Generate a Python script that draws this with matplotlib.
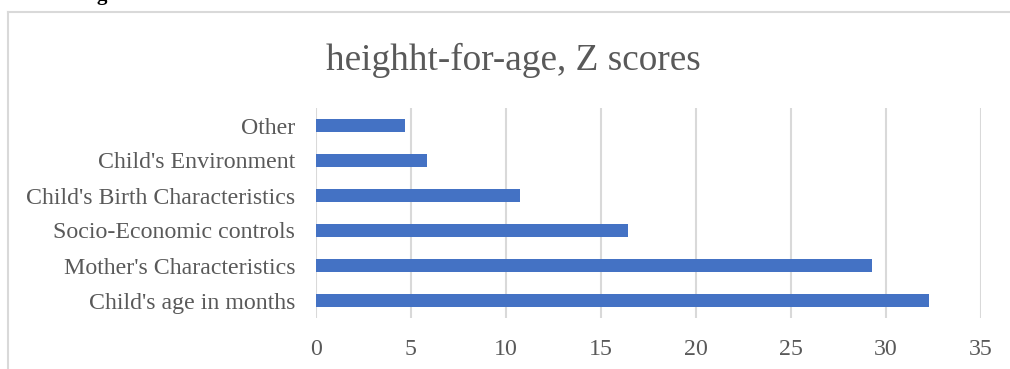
import matplotlib
matplotlib.use("Agg")
from matplotlib import pyplot as plt
from matplotlib.lines import Line2D

# factor groups, listed bottom to top
factors = ["Child's age in months", "Mother's Characteristics", "Socio-Economic controls",
           "Child's Birth Characteristics", "Child's Environment", "Other"]
shares = [32.26, 29.26, 16.42, 10.74, 5.84, 4.68]
xticks = [0, 5, 10, 15, 20, 25, 30, 35]

text_grey = "#595959"
grid_grey = "#d9d9d9"
bar_blue = "#4472c4"

plt.rcParams['font.family'] = ['Liberation Serif', 'DejaVu Serif']

fig = plt.figure(figsize=(10.1, 3.69), dpi=100)
ax = fig.add_axes([316 / 1010, 1 - 318 / 369, (981 - 316) / 1010, (318 - 108) / 369])

ax.barh(range(len(factors)), shares, height=0.37, color=bar_blue, zorder=3)
ax.set_xlim(0, 35)
ax.set_ylim(-0.5, len(factors) - 0.5)
ax.set_xticks(xticks)
ax.set_yticks(range(len(factors)))
ax.set_yticklabels(factors)
ax.grid(axis='x', color=grid_grey, linewidth=1.5, zorder=0)
for s in ax.spines.values():
    s.set_visible(False)
ax.tick_params(axis='both', length=0, labelsize=17.2, colors=text_grey)
ax.tick_params(axis='y', pad=15)
ax.tick_params(axis='x', pad=15)

fig.text(0.508, 1 - 70 / 369, "heighht-for-age, Z scores", ha='center', va='baseline',
         fontsize=26.8, color=text_grey)

# chart frame (only top and left edges fall inside the image)
fig.add_artist(Line2D([8 / 1010, 8 / 1010], [0, 1 - 12 / 369], color=grid_grey, linewidth=1.5))
fig.add_artist(Line2D([8 / 1010, 1], [1 - 12 / 369, 1 - 12 / 369], color=grid_grey, linewidth=1.5))

# tail of the heading above the chart
fig.text(102 / 1010, 1.0, "g", ha='center', va='baseline', fontsize=15, fontweight='bold', color='black')

fig.savefig("out.png", dpi=100)
